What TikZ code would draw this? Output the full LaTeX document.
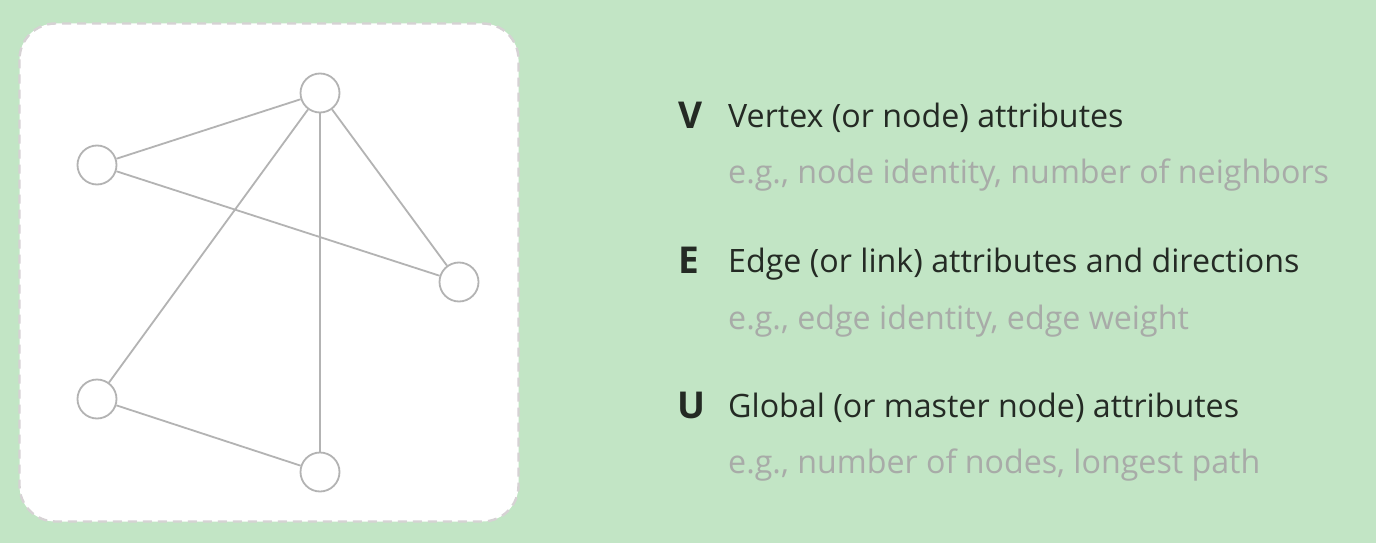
\documentclass[tikz,border=0pt]{standalone}
\usepackage{fontspec}
\setmainfont{Open Sans}
\begin{document}
\begin{tikzpicture}[x=1pt,y=-1pt,
  vert/.style={circle,draw=edgegray,line width=1.8pt,fill=white,minimum size=39pt,inner sep=0pt},
  link/.style={draw=edgegray,line width=1.8pt},
  letter/.style={anchor=base west,inner sep=0pt,font=\bfseries\fontsize{37}{44}\selectfont,text=darktext},
  title/.style={anchor=base west,inner sep=0pt,font=\fontsize{32.2}{38}\selectfont,text=darktext},
  sub/.style={anchor=base west,inner sep=0pt,font=\fontsize{32.2}{38}\selectfont,text=subgray}]
\definecolor{bg}{HTML}{C2E5C5}
\definecolor{edgegray}{HTML}{B3B3B3}
\definecolor{darktext}{HTML}{242A24}
\definecolor{subgray}{HTML}{A8ABA8}
\definecolor{dashgray}{HTML}{D6D2D4}
% canvas
\fill[bg] (0,0) rectangle (1376,543);
\useasboundingbox (0,0) rectangle (1376,543);
% graph panel
\draw[fill=white,draw=dashgray,line width=2.4pt,dash pattern=on 9pt off 6pt,rounded corners=36pt]
  (19.5,23.5) rectangle (518.5,521.5);
% vertices
\node[vert] (a) at (320,93) {};
\node[vert] (b) at (97,165) {};
\node[vert] (c) at (459,282) {};
\node[vert] (d) at (97,399) {};
\node[vert] (e) at (320,472) {};
% edges
\path[link] (a) -- (b);
\path[link] (a) -- (c);
\path[link] (a) -- (d);
\path[link] (a) -- (e);
\path[link] (b) -- (c);
\path[link] (d) -- (e);
% legend
\node[letter] (lv) at (678,128) {V};
\node[title] (tv) at (728,127) {Vertex (or node) attributes};
\node[sub] (sv) at (728,183) {e.g., node identity, number of neighbors};
\node[letter] (le) at (678,273) {E};
\node[title] (te) at (728,272) {Edge (or link) attributes and directions};
\node[sub] (se) at (728,329) {e.g., edge identity, edge weight};
\node[letter] (lu) at (677,418) {U};
\node[title] (tu) at (728,417) {Global (or master node) attributes};
\node[sub] (su) at (728,473) {e.g., number of nodes, longest path};
\end{tikzpicture}
\end{document}
